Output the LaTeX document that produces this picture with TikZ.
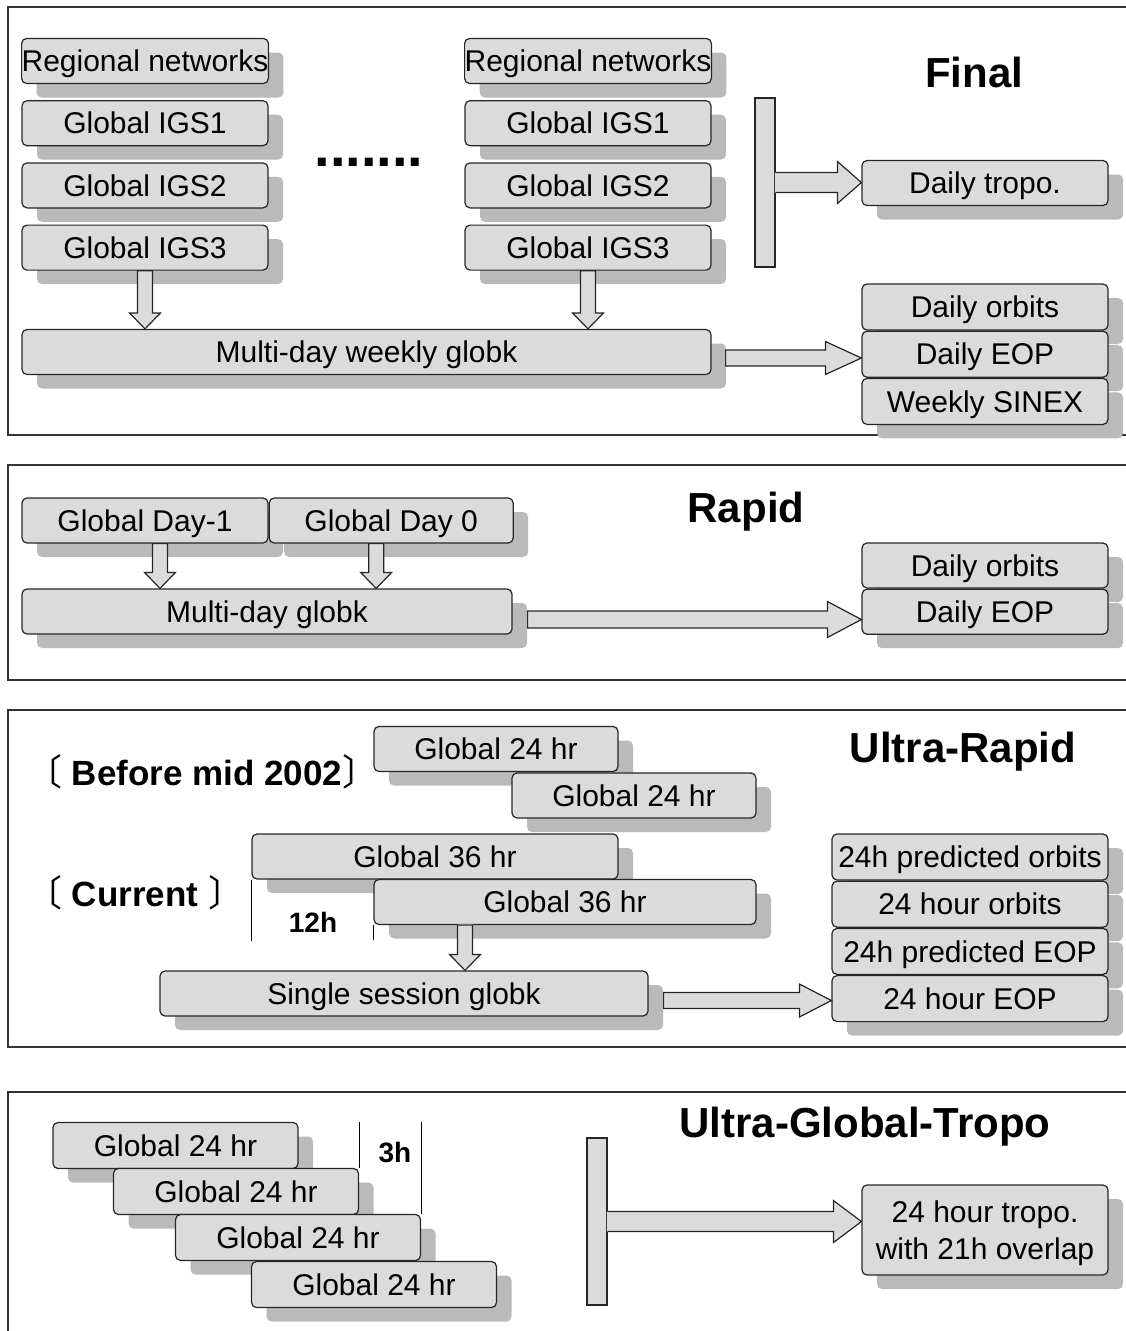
\documentclass[tikz,border=0pt]{standalone}
\usepackage{fontspec}
\setmainfont{Liberation Sans}
\newfontfamily\cjk{Noto Sans CJK SC}
\usetikzlibrary{positioning}
\usetikzlibrary{calc}
\usetikzlibrary{shadows}

% block arrow: shaft half width, head half width, head length, from, to, back edge
\newcommand{\fatarrow}[6]{%
  \coordinate (fa-h) at ($(#5)!#3!(#4)$);
  \coordinate (fa-b) at ($(#4)!-0.7pt!(#5)$);
  \fill[arrowbody]
    ($(fa-b)!#1!90:(#5)$) -- ($(fa-h)!#1!90:(#5)$) -- ($(fa-h)!#2!90:(#5)$) -- (#5)
    -- ($(fa-h)!#2!-90:(#5)$) -- ($(fa-h)!#1!-90:(#5)$) -- ($(fa-b)!#1!-90:(#5)$) -- cycle;
  \draw[arrowedge]
    ($(#4)!#1!90:(#5)$) -- ($(fa-h)!#1!90:(#5)$) -- ($(fa-h)!#2!90:(#5)$) -- (#5)
    -- ($(fa-h)!#2!-90:(#5)$) -- ($(fa-h)!#1!-90:(#5)$) -- ($(#4)!#1!-90:(#5)$) #6;}
\newcommand{\shell}[1]{{\cjk\mdseries\fontsize{36}{36}\selectfont #1}}

\begin{document}
\begin{tikzpicture}[ x = 1pt, y = -1pt
                   , node distance = 16pt and 0pt
                   , font = \fontsize{30}{36}\selectfont
                   , box/.style = { rectangle
                                  , rounded corners = 5pt
                                  , draw = black!85
                                  , line width = 1.2pt
                                  , fill = black!14
                                  , minimum width = 246pt
                                  , minimum height = 45pt
                                  , inner sep = 0pt
                                  , text height = 21.5pt
                                  , text depth = 0pt
                                  , align = center
                                  , drop shadow = {shadow xshift=15pt,shadow yshift=-14pt,fill=black!27,opacity=1} }
                   , title/.style = {font = \bfseries\fontsize{42}{44}\selectfont}
                   , tag/.style = {font = \bfseries\fontsize{35}{36}\selectfont, inner sep = 0pt}
                   , hours/.style = {font = \bfseries\fontsize{28}{30}\selectfont, inner sep = 0pt}
                   , bar/.style = { rectangle, draw = black!85, line width = 1.2pt
                                  , fill = black!14, minimum width = 20pt, inner sep = 0pt}
                   , arrowbody/.style = {fill = black!14}
                   , arrowedge/.style = {draw = black!85, line width = 1.2pt}
                   , tick/.style = {draw = black, line width = 1.2pt}
                   , panel/.style = {draw = black!80, line width = 1.6pt}
                   ]

    \useasboundingbox (0,0) rectangle (1126,1331);
    \clip (0,0) rectangle (1126,1331);

    \draw[panel] (8,7) rectangle (1140,435);
    \draw[panel] (8,465) rectangle (1140,680);
    \draw[panel] (8,710) rectangle (1140,1047);
    \draw[panel] (8,1092) rectangle (1140,1345);

    %%
    %% Final
    %%
    \node (final) [title] at (974,72) {Final};
    \node (regA)  [box] at (145,61)          {Regional networks};
    \node (igs1A) [box, below = of regA]     {Global IGS1};
    \node (igs2A) [box, below = of igs1A]    {Global IGS2};
    \node (igs3A) [box, below = of igs2A]    {Global IGS3};
    \node (regB)  [box] at (588,61)          {Regional networks};
    \node (igs1B) [box, below = of regB]     {Global IGS1};
    \node (igs2B) [box, below = of igs1B]    {Global IGS2};
    \node (igs3B) [box, below = of igs2B]    {Global IGS3};
    \node (dots)  [anchor = base, inner sep = 0pt, font = \bfseries\fontsize{56}{56}\selectfont]
                  at (369,166) {.......};
    \node (weekly) [box, minimum width = 689pt] at (366.5,352) {Multi-day weekly globk};
    \node (dorbA)  [box, minimum height = 46pt] at (985,307)  {Daily orbits};
    \node (deopA)  [box, minimum height = 46pt, below = 0pt of dorbA] {Daily EOP};
    \node (sinex)  [box, minimum height = 46pt, below = 0pt of deopA] {Weekly SINEX};
    \node (tbarA)  [bar, minimum height = 169pt] at (765,182.5) {};
    \node (tropoA) [box] at (985,183) {Daily tropo.};

    \coordinate (dA) at (igs3A.south |- weekly.north);
    \coordinate (dB) at (igs3B.south |- weekly.north);
    \coordinate (wk) at ([xshift = 14pt, yshift = -6pt]weekly.east);
    \coordinate (wkEnd) at (wk -| deopA.west);
    \coordinate (tA) at (tbarA.east -| tropoA.west);
    \fatarrow{7.5pt}{15.5pt}{16pt}{igs3A.south}{dA}{-- cycle}
    \fatarrow{7.5pt}{15.5pt}{16pt}{igs3B.south}{dB}{-- cycle}
    \fatarrow{8pt}{16.5pt}{36pt}{wk}{wkEnd}{-- cycle}
    \fatarrow{10pt}{21pt}{24pt}{tbarA.east}{tA}{}

    %%
    %% Rapid
    %%
    \node (rapid) [title] at (746,512) {Rapid};
    \node (day1)   [box] at (145,520.5) {Global Day-1};
    \node (day0)   [box, minimum width = 244pt, right = 0pt of day1] {Global Day 0};
    \node (mglobk) [box, minimum width = 490pt] at (267,611.5) {Multi-day globk};
    \node (dorbB)  [box] at (985,565.5) {Daily orbits};
    \node (deopB)  [box, below = 0pt of dorbB] {Daily EOP};

    \coordinate (r1) at ([xshift = 15pt]day1.south);
    \coordinate (r1End) at (r1 |- mglobk.north);
    \coordinate (r2) at ([xshift = -15pt]day0.south);
    \coordinate (r2End) at (r2 |- mglobk.north);
    \coordinate (rs) at ([xshift = 15pt, yshift = -8pt]mglobk.east);
    \coordinate (rsEnd) at (rs -| deopB.west);
    \fatarrow{7.5pt}{15.5pt}{16pt}{r1}{r1End}{-- cycle}
    \fatarrow{7.5pt}{15.5pt}{16pt}{r2}{r2End}{-- cycle}
    \fatarrow{8.5pt}{18pt}{34pt}{rs}{rsEnd}{-- cycle}

    %%
    %% Ultra-Rapid
    %%
    \node (ultra) [title] at (963,752) {Ultra-Rapid};
    \node (before)  [tag, anchor = west] at (26,772) {\shell{〔} Before mid 2002\shell{〕}};
    \node (current) [tag, anchor = west] at (26,893) {\shell{〔} Current \shell{〕}};
    \node (g24a) [box, minimum width = 244pt] at (496,749)   {Global 24 hr};
    \node (g24b) [box, minimum width = 244pt] at (634,795.5) {Global 24 hr};
    \node (g36a) [box, minimum width = 366pt] at (435,856.5) {Global 36 hr};
    \node (g36b) [box, minimum width = 382pt] at (565,902)   {Global 36 hr};
    \node (h12)  [hours] at (313,922) {12h};
    \node (single) [box, minimum width = 488pt] at (404,993.5) {Single session globk};
    \node (porb) [box, minimum width = 276pt, minimum height = 46pt] at (970,857) {24h predicted orbits};
    \node (horb) [box, minimum width = 276pt, minimum height = 46pt, below = 0pt of porb] {24 hour orbits};
    \node (peop) [box, minimum width = 276pt, minimum height = 46pt, below = 0pt of horb] {24h predicted EOP};
    \node (heop) [box, minimum width = 276pt, minimum height = 46pt, below = 0pt of peop] {24 hour EOP};

    \draw[tick] (g36a.south west) -- ++(0,61);
    \draw[tick] (g36b.south west) -- ++(0,15);
    \coordinate (us) at ([xshift = -100pt]g36b.south);
    \coordinate (usEnd) at (us |- single.north);
    \coordinate (ss) at ([xshift = 15pt, yshift = -7pt]single.east);
    \coordinate (ssEnd) at (ss -| heop.west);
    \fatarrow{7.5pt}{15.5pt}{16pt}{us}{usEnd}{-- cycle}
    \fatarrow{8pt}{16.5pt}{32pt}{ss}{ssEnd}{-- cycle}

    %%
    %% Ultra-Global-Tropo
    %%
    \node (ugt) [title] at (865,1127) {Ultra-Global-Tropo};
    \node (u1) [box, minimum width = 245pt, minimum height = 46pt] at (175.5,1145.5) {Global 24 hr};
    \node (u2) [box, minimum width = 245pt, minimum height = 46pt] at (236,1191.5)   {Global 24 hr};
    \node (u3) [box, minimum width = 245pt, minimum height = 46pt] at (298,1237.5)   {Global 24 hr};
    \node (u4) [box, minimum width = 245pt, minimum height = 46pt] at (374,1284.5)   {Global 24 hr};
    \node (h3) [hours] at (395,1152) {3h};
    \node (tbarB)  [bar, minimum height = 167pt] at (597,1221.5) {};
    \node (tropoB) [box, minimum height = 90pt, text height =, font = \fontsize{30}{37}\selectfont]
                   at (985,1230) {24 hour tropo.\\with 21h overlap};

    \draw[tick] (u2.north east) -- (u2.north east |- u1.north);
    \draw[tick] (u3.north east) -- (u3.north east |- u1.north);
    \coordinate (tB) at (tbarB.east -| tropoB.west);
    \fatarrow{10pt}{21pt}{28pt}{tbarB.east}{tB}{}
  \end{tikzpicture}
\end{document}
